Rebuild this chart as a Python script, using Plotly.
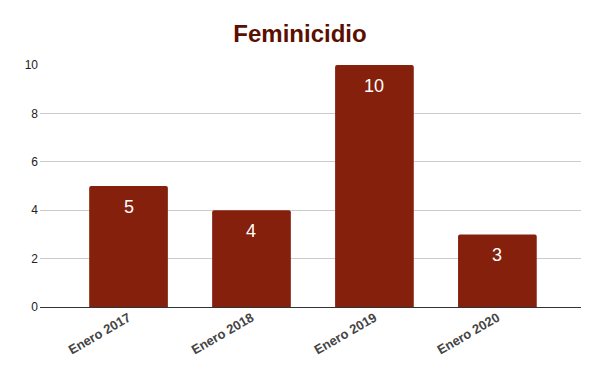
import plotly.graph_objects as go

categories = ["Enero 2017", "Enero 2018", "Enero 2019", "Enero 2020"]
values = [5, 4, 10, 3]
y_ticks = [0, 2, 4, 6, 8, 10]

fig = go.Figure(go.Bar(
    x=categories, y=values,
    marker=dict(color="#85200c", line=dict(width=0)),
    width=0.64,
))
for c, v in zip(categories, values):
    fig.add_annotation(x=c, y=v, text=str(v), showarrow=False, yanchor="middle",
                       yshift=-21, font=dict(family="Arial, Liberation Sans", size=18, color="white"))
fig.update_layout(
    width=600, height=371,
    margin=dict(l=40, r=19, t=65, b=64),
    paper_bgcolor="white", plot_bgcolor="white",
    barcornerradius=2,
    title=dict(text="<b>Feminicidio</b>", x=0.5, xanchor="center", y=0.91, yanchor="middle",
               font=dict(family="Arial, Liberation Sans", size=24, color="#5b0f00")),
    showlegend=False,
    xaxis=dict(range=[-0.72, 3.68], tickangle=-30, showgrid=False, automargin=False,
               tickfont=dict(family="Arial, Liberation Sans", size=13, color="#444444"),
               ticks="", showline=False,
               tickvals=categories, ticktext=[f"<b>{c}</b>" for c in categories]),
    yaxis=dict(range=[0, 10], tickvals=y_ticks, showgrid=True, gridcolor="#cccccc",
               zeroline=True, zerolinecolor="#333333", zerolinewidth=1, automargin=False,
               tickfont=dict(family="Arial, Liberation Sans", size=12, color="#222222"),
               ticks="", ticklabelstandoff=1),
)
fig.write_html("out.html", config={"displayModeBar": False},
               post_script="document.body.style.margin='0';")
